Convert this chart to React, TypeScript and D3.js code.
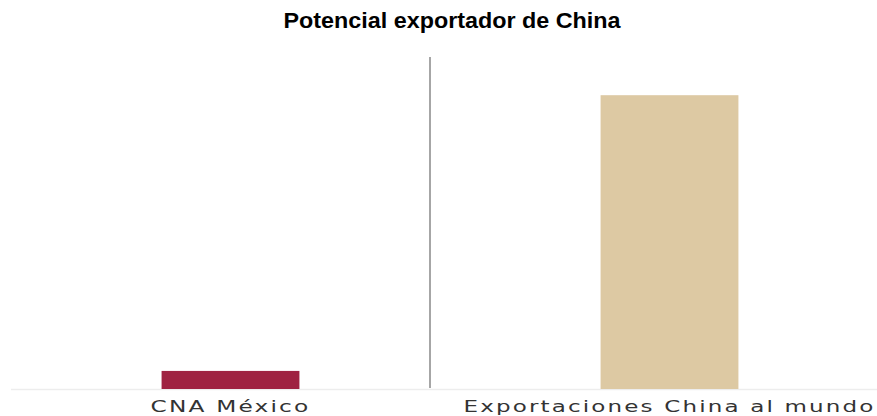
import { useEffect, useRef } from 'react'
import * as d3 from 'd3'

const categories = ['CNA México', 'Exportaciones China al mundo']
const values = [160, 2600]
const barColors = ['#9F2241', '#DDC9A3']
const title = 'Potencial exportador de China'

const W = 877
const H = 416

export default function App() {
  const svgRef = useRef<SVGSVGElement>(null)

  useEffect(() => {
    if (!svgRef.current) return
    const svg = d3.select(svgRef.current)
    svg.selectAll('*').remove()

    const baseY = 389
    const left = 11
    const right = 889

    const x = d3
      .scaleBand<string>()
      .domain(categories)
      .range([left, right])
      .paddingInner(0.686)
      .paddingOuter(0.343)

    const y = d3.scaleLinear().domain([0, 3000]).range([baseY, 50])

    // title
    svg
      .append('text')
      .attr('x', 452)
      .attr('y', 28)
      .attr('text-anchor', 'middle')
      .attr('textLength', 337)
      .attr('lengthAdjust', 'spacingAndGlyphs')
      .style('font-family', '"Liberation Sans", Arial, sans-serif')
      .style('font-weight', 'bold')
      .style('font-size', '22px')
      .attr('fill', '#000')
      .text(title)

    // baseline
    svg
      .append('line')
      .attr('x1', left)
      .attr('x2', W)
      .attr('y1', baseY + 0.5)
      .attr('y2', baseY + 0.5)
      .attr('stroke', '#ededed')
      .attr('stroke-width', 1.5)

    // bars
    svg
      .selectAll('.bar')
      .data(categories)
      .enter()
      .append('rect')
      .attr('class', 'bar')
      .attr('x', d => x(d)!)
      .attr('width', x.bandwidth())
      .attr('y', (d, i) => y(values[i]))
      .attr('height', (d, i) => baseY - y(values[i]))
      .attr('fill', (d, i) => barColors[i])

    // divider
    svg
      .append('line')
      .attr('x1', 430)
      .attr('x2', 430)
      .attr('y1', 57)
      .attr('y2', 388)
      .attr('stroke', '#888')
      .attr('stroke-width', 1.5)

    // category labels
    const labelWidths = [160, 412]
    svg
      .selectAll('.lbl')
      .data(categories)
      .enter()
      .append('text')
      .attr('class', 'lbl')
      .attr('x', d => x(d)! + x.bandwidth() / 2)
      .attr('y', 412)
      .attr('text-anchor', 'middle')
      .attr('textLength', (d, i) => labelWidths[i])
      .attr('lengthAdjust', 'spacingAndGlyphs')
      .style('font-family', '"DejaVu Sans", sans-serif')
      .style('font-size', '16px')
      .style('letter-spacing', '1.5px')
      .attr('fill', '#333')
      .text(d => d)
  }, [])

  return (
    <svg
      ref={svgRef}
      width={W}
      height={H}
      style={{ position: 'absolute', left: 0, top: 0, background: '#fff' }}
    />
  )
}
